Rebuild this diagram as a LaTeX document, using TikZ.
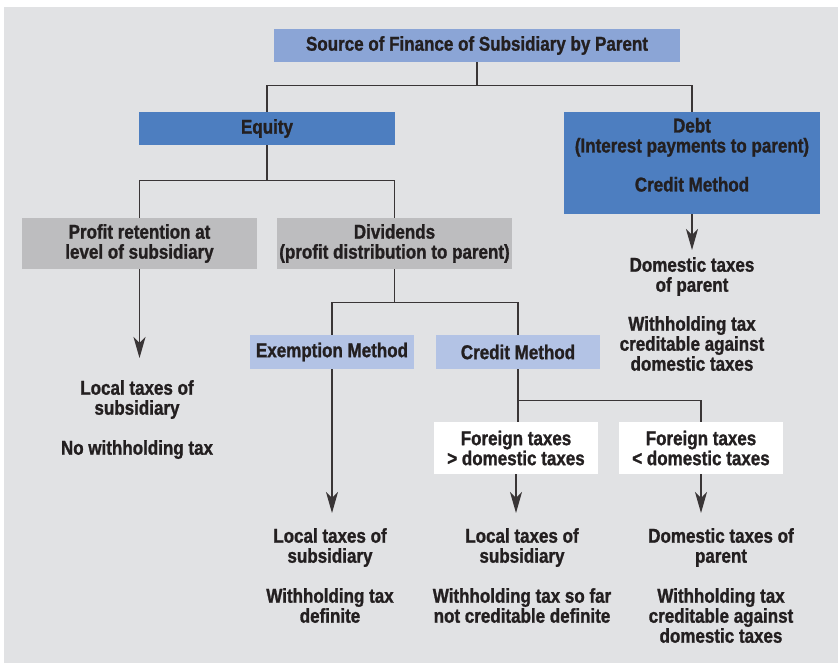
\documentclass[tikz,border=0pt]{standalone}
\usepackage{fontspec}
\setmainfont{Liberation Sans}[FakeStretch=0.85, BoldFeatures={FakeBold=1.2}]
\usepackage{tikz}
\usetikzlibrary{arrows.meta,
		positioning,
		calc}
\definecolor{bg_c}{HTML}{E1E2E4}
\definecolor{top_c}{HTML}{8BA5D6}
\definecolor{main_c}{HTML}{4D7EC0}
\definecolor{sub_c}{HTML}{B3C3E5}
\definecolor{grey_c}{HTML}{BDBDBF}
\definecolor{ink_c}{HTML}{231F20}

\begin{document}
\begin{tikzpicture}[
			x=1pt, y=-1pt,
			font=\fontsize{20}{20}\selectfont\bfseries,
			text=ink_c,
			box/.style = {inner sep=0pt, align=center},
			res/.style = {inner sep=0pt, align=center, anchor=north},
			link/.style = {draw=ink_c!90, line width=1.2pt},
			>={Stealth[length=21pt, width=12pt, inset=6pt]},
			]
			% background
			\fill[white] (0,0) rectangle (838,663);
			\fill[bg_c] (4,7) rectangle (838,663);
			\useasboundingbox (0,0) rectangle (838,663);
			% boxes
			\node[box, fill=top_c, minimum width=406, minimum height=33] (src) at (477,45.5) {Source of Finance of Subsidiary by Parent};
			\node[box, fill=main_c, minimum width=256, minimum height=33] (equity) at (267,128.5) {Equity};
			\node[box, fill=main_c, minimum width=256, minimum height=102] (debt) at (692,163) {};
			\node[res] (debttxt) at ([yshift=-6pt]debt.north) {Debt\\(Interest payments to parent)\\[19pt]Credit Method};
			\node[box, fill=grey_c, minimum width=235, minimum height=51] (retain) at (139.5,243.5) {Profit retention at\\level of subsidiary};
			\node[box, fill=grey_c, minimum width=235, minimum height=51] (divid) at (394.5,243.5) {Dividends\\(profit distribution to parent)};
			\node[box, fill=sub_c, minimum width=164, minimum height=34] (exempt) at (332,352) {Exemption Method};
			\node[box, fill=sub_c, minimum width=164, minimum height=34] (credit) at (518,352) {Credit Method};
			\node[box, fill=white, minimum width=164, minimum height=52] (fgt) at (516,448) {Foreign taxes\\> domestic taxes};
			\node[box, fill=white, minimum width=164, minimum height=52] (flt) at (701,448) {Foreign taxes\\< domestic taxes};
			% results
			\node[res] (retres) at (137,380) {Local taxes of\\subsidiary\\[20pt]No withholding tax};
			\node[res] (debtres) at (692,257) {Domestic taxes\\of parent\\[19pt]Withholding tax\\creditable against\\domestic taxes};
			\node[res] (exres) at (330,528) {Local taxes of\\subsidiary\\[20pt]Withholding tax\\definite};
			\node[res] (fgtres) at (522,528) {Local taxes of\\subsidiary\\[20pt]Withholding tax so far\\not creditable definite};
			\node[res] (fltres) at (721,528) {Domestic taxes of\\parent\\[20pt]Withholding tax\\creditable against\\domestic taxes};
			% edges
			\draw[link] (src.south) -- ++(0,23) -| (equity.north);
			\draw[link] (src.south) -- ++(0,23) -| (debt.north);
			\draw[link] (equity.south) -- ++(0,35) -| (retain.north);
			\draw[link] (equity.south) -- ++(0,35) -| (divid.north);
			\draw[link] (divid.south) -- ++(0,33) -| (exempt.north);
			\draw[link] (divid.south) -- ++(0,33) -| (credit.north);
			\draw[link] (credit.south) -- (credit.south |- fgt.north);
			\draw[link] (credit.south) -- ++(0,31) -| (flt.north);
			% arrows
			\draw[link, ->, shorten >=22pt] (retain.south) -- (retain.south |- retres.north);
			\draw[link, ->, shorten >=7pt] (debt.south) -- (debt.south |- debtres.north);
			\draw[link, ->, shorten >=15pt] (exempt.south) -- (exempt.south |- exres.north);
			\draw[link, ->, shorten >=15pt] (fgt.south) -- (fgt.south |- fgtres.north);
			\draw[link, ->, shorten >=15pt] (flt.south) -- (flt.south |- fltres.north);
		\end{tikzpicture}
\end{document}
